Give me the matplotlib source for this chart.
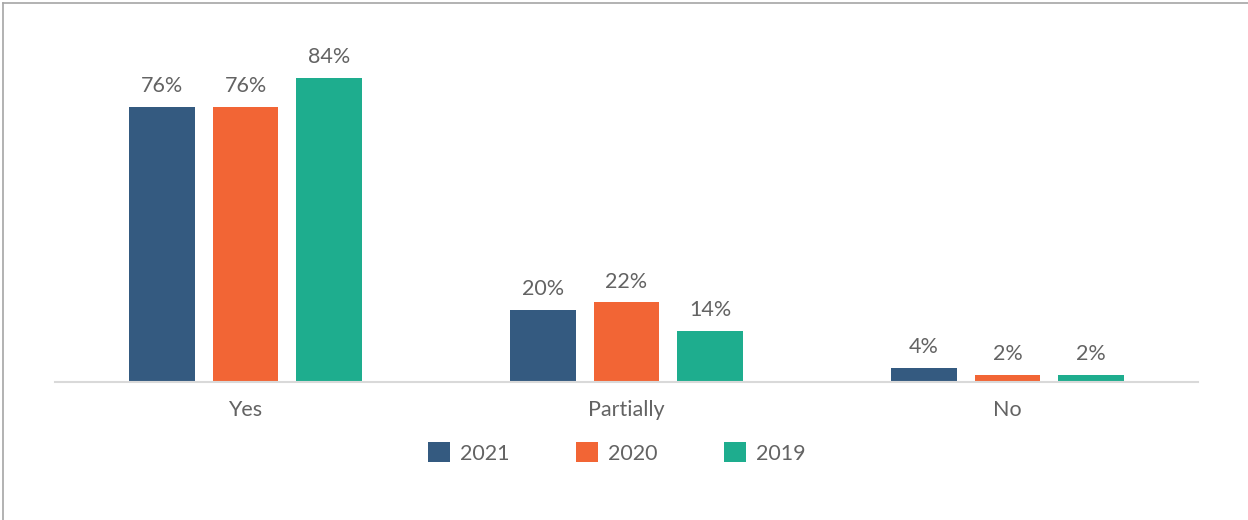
import numpy as np
import matplotlib.pyplot as plt
from matplotlib.lines import Line2D

categories = ["Yes", "Partially", "No"]
years = ["2021", "2020", "2019"]
v2021 = [76, 20, 4]
v2020 = [76, 22, 2]
v2019 = [84, 14, 2]
colors = ["#345A80", "#F26535", "#1EAD8E"]

plt.rcParams['font.family'] = ['Lato', 'DejaVu Sans']
grey = "#636363"
fs = 15.5

fig = plt.figure(figsize=(12.48, 5.2), dpi=100)
W, H = 1248, 520
ax = fig.add_axes([55 / W, (H - 382) / H, 1143 / W, 362 / H])

x = np.arange(len(categories))
step = 0.22
width = 0.173
for i, (vals, yr) in enumerate(zip([v2021, v2020, v2019], years)):
    pos = x + (i - 1) * step
    bars = ax.bar(pos, vals, width=width, color=colors[i], label=yr)
    for b, v in zip(bars, vals):
        ax.text(b.get_x() + b.get_width() / 2, v + 3.0, f"{v}%",
                ha="center", va="bottom", fontsize=fs, color=grey)

ax.set_xlim(-0.5, 2.5)
ax.set_ylim(0, 100)
ax.set_yticks([])
ax.set_xticks(x)
ax.set_xticklabels(categories, fontsize=fs, color=grey)
ax.tick_params(axis="x", length=0, pad=13)
for s in ["top", "right", "left"]:
    ax.spines[s].set_visible(False)
ax.spines["bottom"].set_color("#D9D9D9")
ax.spines["bottom"].set_linewidth(1.5)

leg = fig.legend(loc="center", bbox_to_anchor=(617 / W, 1 - 453 / H), ncol=3,
                 frameon=False, fontsize=fs, labelcolor=grey,
                 handlelength=1.0, handleheight=1.0, handletextpad=0.47,
                 columnspacing=3.1)

# thin frame on the top and left edges
fig.add_artist(Line2D([3 / W, 3 / W], [0, 1 - 3 / H], color="#A6A6A6", lw=1.2,
                      transform=fig.transFigure))
fig.add_artist(Line2D([3 / W, 1], [1 - 3 / H, 1 - 3 / H], color="#A6A6A6", lw=1.2,
                      transform=fig.transFigure))

fig.savefig("out.png", dpi=100)
